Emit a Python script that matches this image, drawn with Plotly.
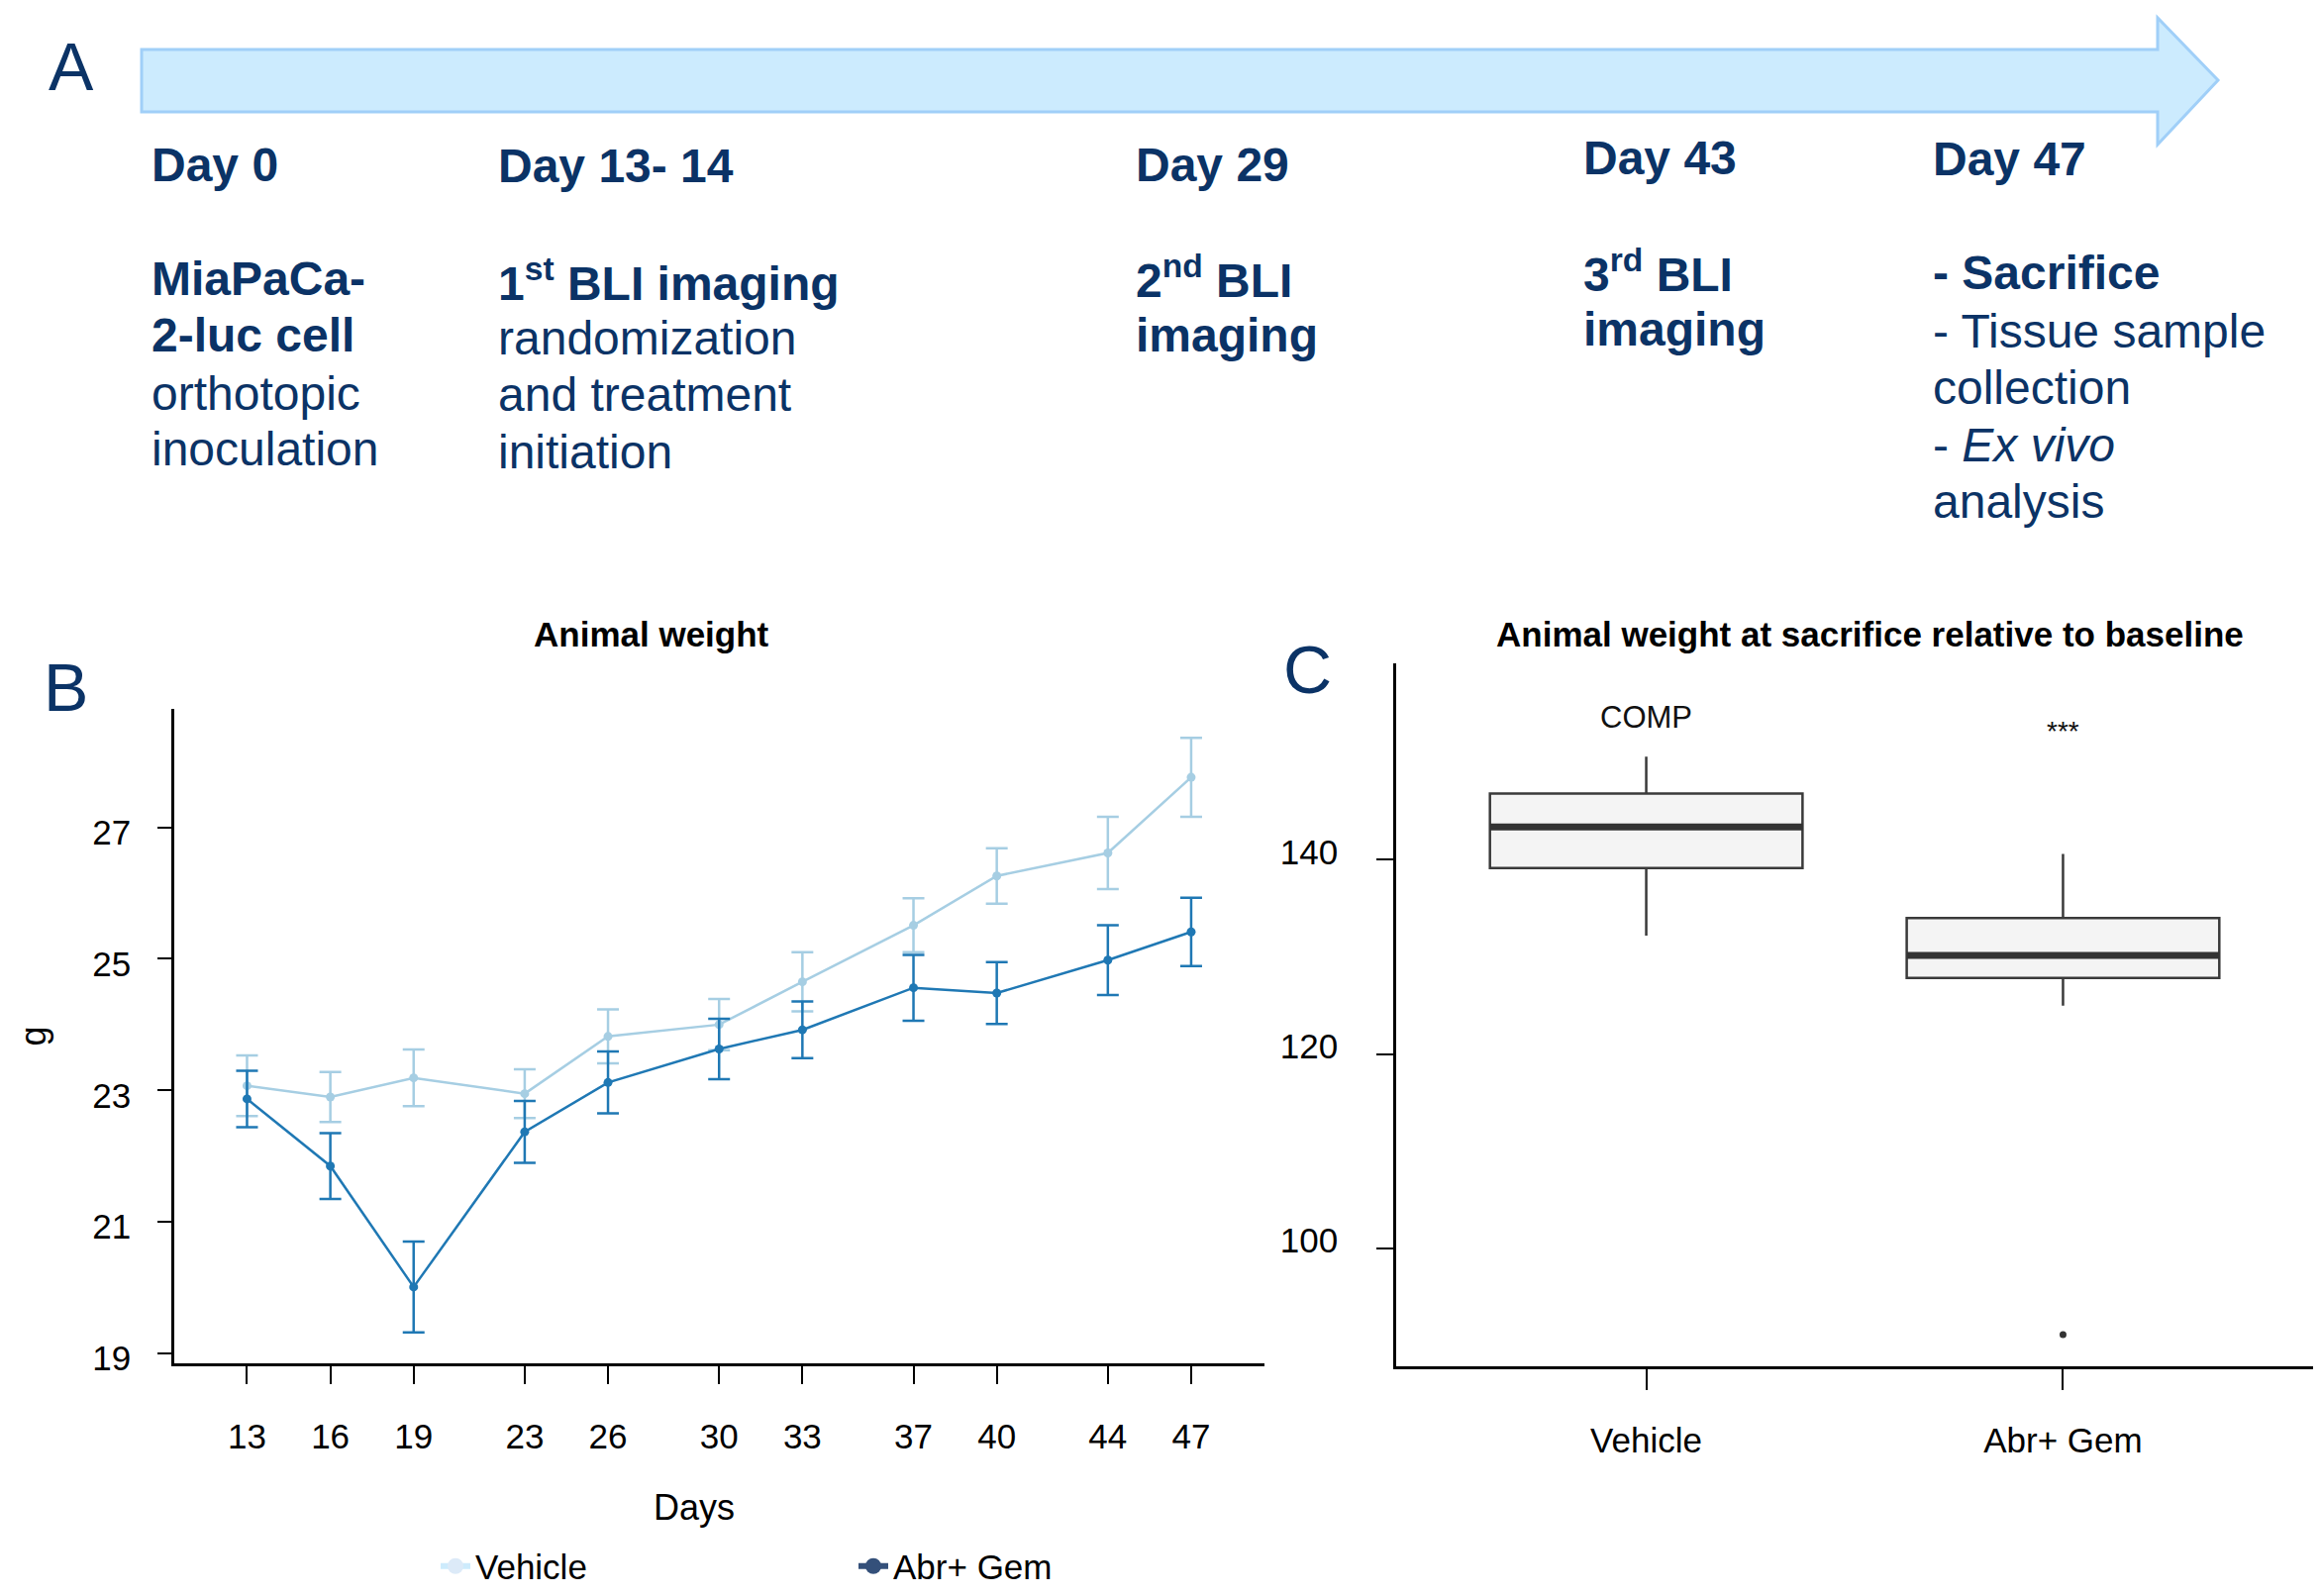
import plotly.graph_objects as go

W, H = 2344, 1612

# ---------------- data ----------------
days = [13, 16, 19, 23, 26, 30, 33, 37, 40, 44, 47]
vehicle_mean = [23.07, 22.90, 23.19, 22.95, 23.82, 24.00, 24.65, 25.51, 26.26, 26.61, 27.76]
vehicle_err = [0.46, 0.38, 0.43, 0.37, 0.41, 0.39, 0.45, 0.41, 0.42, 0.55, 0.60]
abrgem_mean = [22.87, 21.85, 20.01, 22.37, 23.12, 23.63, 23.92, 24.56, 24.48, 24.98, 25.41]
abrgem_err = [0.43, 0.50, 0.69, 0.47, 0.47, 0.46, 0.43, 0.50, 0.47, 0.53, 0.52]
series_names = ["Vehicle", "Abr+ Gem"]

box_categories = ["Vehicle", "Abr+ Gem"]
box_q1 = [139.15, 127.85]
box_median = [143.36, 130.15]
box_q3 = [146.80, 134.00]
box_lower = [132.20, 125.00]
box_upper = [150.60, 140.60]
outlier_cat = [1]
outlier_val = [91.15]
box_labels = ["COMP", "***"]
box_label_y = [154.7, 153.2]

b_yticks = [19, 21, 23, 25, 27]
c_yticks = [100, 120, 140]

timeline_heads = ["Day 0", "Day 13- 14", "Day 29", "Day 43", "Day 47"]
timeline_bodies = [
    ["<b>MiaPaCa-</b>", "<b>2-luc cell</b>", "orthotopic", "inoculation"],
    ["<b>1<sup>st</sup> BLI imaging</b>", "randomization", "and treatment", "initiation"],
    ["<b>2<sup>nd</sup> BLI</b>", "<b>imaging</b>"],
    ["<b>3<sup>rd</sup> BLI</b>", "<b>imaging</b>"],
    ["<b>- Sacrifice</b>", "- Tissue sample", "collection", "- <i>Ex vivo</i>", "analysis"],
]

# ---------------- layout positions (pixels) ----------------
col_x = [151, 501, 1145, 1597, 1950]
head_y = [166, 168, 166, 159, 161]
body_y = [
    [281, 339, 397, 454],
    [283, 341, 399, 456],
    [280, 339],
    [274, 332],
    [276, 334, 392, 449, 506],
]

NAVY = "#0B3366"
CHART_FONT = "Liberation Sans, Arial, sans-serif"
TXT_FONT = "Liberation Sans, Arial, sans-serif"
VEH_COLOR = "#A6CEE3"
ABR_COLOR = "#1F78B4"
FS = 35


def px(x):
    return x / W


def py(y):
    return 1 - y / H


fig = go.Figure()

# ---------------- Panel B ----------------
for name, mean, err, color in [
    (series_names[0], vehicle_mean, vehicle_err, VEH_COLOR),
    (series_names[1], abrgem_mean, abrgem_err, ABR_COLOR),
]:
    fig.add_trace(go.Scatter(
        x=days, y=mean, mode="lines+markers", name=name, showlegend=False,
        line=dict(color=color, width=2.5),
        marker=dict(color=color, size=9),
        error_y=dict(type="data", array=err, visible=True, color=color,
                     thickness=2.5, width=11),
        xaxis="x", yaxis="y",
    ))

# legend entries (legend colours differ slightly from the plotted lines)
for name, lc, mc in [(series_names[0], "#CDEBFC", "#DCEAF8"),
                     (series_names[1], "#34507A", "#34507A")]:
    fig.add_trace(go.Scatter(
        x=[None], y=[None], mode="lines+markers", name=name,
        line=dict(color=lc, width=6), marker=dict(color=mc, size=18),
        xaxis="x", yaxis="y", showlegend=True,
    ))

# ---------------- Panel C ----------------
BOX_W = 0.75
fig.add_trace(go.Box(
    x=[0, 1], q1=box_q1, median=box_median, q3=box_q3,
    lowerfence=box_lower, upperfence=box_upper,
    width=BOX_W, whiskerwidth=0, fillcolor="#F4F4F4",
    line=dict(color="#3A3A3A", width=2.5),
    boxpoints=False, showlegend=False, xaxis="x2", yaxis="y2",
))
for i, med in enumerate(box_median):
    fig.add_trace(go.Scatter(
        x=[i - BOX_W / 2, i + BOX_W / 2], y=[med, med], mode="lines",
        line=dict(color="#333333", width=7), showlegend=False,
        xaxis="x2", yaxis="y2", hoverinfo="skip",
    ))
fig.add_trace(go.Scatter(
    x=outlier_cat, y=outlier_val, mode="markers",
    marker=dict(color="#333333", size=7), showlegend=False,
    xaxis="x2", yaxis="y2",
))

annotations = []
for i, (lab, ly) in enumerate(zip(box_labels, box_label_y)):
    annotations.append(dict(
        x=i, y=ly, xref="x2", yref="y2", text=lab, showarrow=False,
        font=dict(family=CHART_FONT, size=31 if i == 0 else 28, color="#111111"),
        xanchor="center", yanchor="middle",
    ))

# panel titles
annotations.append(dict(x=px(658), y=py(640), xref="paper", yref="paper",
                        text="<b>Animal weight</b>", showarrow=False,
                        font=dict(family=CHART_FONT, size=35, color="#000000"),
                        xanchor="center", yanchor="middle"))
annotations.append(dict(x=px(1888), y=py(640), xref="paper", yref="paper",
                        text="<b>Animal weight at sacrifice relative to baseline</b>",
                        showarrow=False,
                        font=dict(family=CHART_FONT, size=35, color="#000000"),
                        xanchor="center", yanchor="middle"))

# x-axis title of panel B
annotations.append(dict(x=px(701), y=py(1522), xref="paper", yref="paper",
                        text="Days", showarrow=False,
                        font=dict(family=CHART_FONT, size=36, color="#000000"),
                        xanchor="center", yanchor="middle"))

# panel letters
for letter, lx, ly in [("A", 72, 67), ("B", 66, 694), ("C", 1320, 676)]:
    annotations.append(dict(x=px(lx), y=py(ly), xref="paper", yref="paper",
                            text=letter, showarrow=False,
                            font=dict(family=TXT_FONT, size=68, color=NAVY),
                            xanchor="center", yanchor="middle"))

# timeline texts
for cx, hy, head, lines, ys in zip(col_x, head_y, timeline_heads, timeline_bodies, body_y):
    annotations.append(dict(x=px(cx), y=py(hy), xref="paper", yref="paper",
                            text="<b>" + head + "</b>", showarrow=False,
                            font=dict(family=TXT_FONT, size=48, color=NAVY),
                            xanchor="left", yanchor="middle"))
    for line, ly in zip(lines, ys):
        annotations.append(dict(x=px(cx), y=py(ly), xref="paper", yref="paper",
                                text=line, showarrow=False,
                                font=dict(family=TXT_FONT, size=48, color=NAVY),
                                xanchor="left", yanchor="middle"))

# timeline arrow
ax0, ax1, ax2 = 143, 2179, 2240
at, ab, ht, hb, tip = 50, 113, 18, 146, 81
path = (f"M {px(ax0)},{py(at)} L {px(ax1)},{py(at)} L {px(ax1)},{py(ht)} "
        f"L {px(ax2)},{py(tip)} L {px(ax1)},{py(hb)} L {px(ax1)},{py(ab)} "
        f"L {px(ax0)},{py(ab)} Z")
shapes = [dict(type="path", xref="paper", yref="paper", path=path,
               fillcolor="#CCEBFE", line=dict(color="#A0CFF8", width=3))]

axis_common = dict(showgrid=False, zeroline=False, showline=True,
                   linecolor="#000000", linewidth=2.5, ticks="outside",
                   tickcolor="#000000", tickwidth=2, automargin=False,
                   tickfont=dict(family=CHART_FONT, size=FS, color="#000000"))

fig.update_layout(
    width=W, height=H, margin=dict(l=0, r=0, t=0, b=0, autoexpand=False),
    plot_bgcolor="white", paper_bgcolor="white",
    xaxis=dict(domain=[px(176), px(1277)], range=[10.38, 49.64],
               tickvals=days, ticklen=18, ticklabelstandoff=23, anchor="y",
               **axis_common),
    yaxis=dict(domain=[py(1377), py(716)], range=[18.85, 28.8],
               tickvals=b_yticks, ticklen=14, ticklabelstandoff=20,
               ticklabelshift=5, anchor="x",
               title=dict(text="g", font=dict(family=CHART_FONT, size=36, color="#000000"),
                          standoff=36),
               **axis_common),
    xaxis2=dict(domain=[px(1410), px(2336)], range=[-0.6, 1.6],
                tickvals=[0, 1], ticktext=box_categories, ticklen=21,
                ticklabelstandoff=21, anchor="y2", **axis_common),
    yaxis2=dict(domain=[py(1380), py(670)], range=[87.9, 160.2],
                tickvals=c_yticks, ticklen=17, ticklabelstandoff=32,
                ticklabelshift=-8, anchor="x2",
                **axis_common),
    legend=dict(orientation="h", x=px(440), y=py(1582), xanchor="left",
                yanchor="middle", entrywidth=377, entrywidthmode="pixels",
                font=dict(family=CHART_FONT, size=35, color="#000000"),
                bgcolor="rgba(0,0,0,0)"),
    annotations=annotations,
    shapes=shapes,
)

fig.write_html("out.html", post_script="document.body.style.margin='0px';",
               config={"displayModeBar": False})
